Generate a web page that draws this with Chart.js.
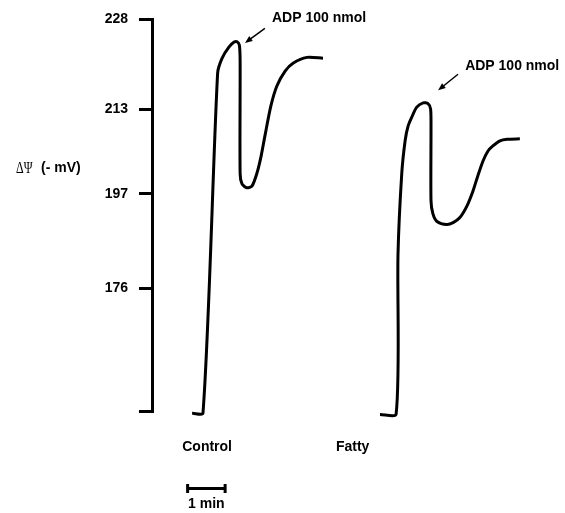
<!DOCTYPE html>
<html>
<head>
<meta charset="utf-8">
<script src="https://cdn.jsdelivr.net/npm/chart.js@4"></script>
<style>
  html, body { margin: 0; padding: 0; background: #fff; }
  #wrap { width: 565px; height: 513px; }
</style>
</head>
<body>
<div id="wrap"><canvas id="trace"></canvas></div>
<script>
// Trace data: x in minutes, y in recorder units (0 = baseline foot, 100 = 228 mV mark)
const controlX = [1.07, 1.36, 1.75, 1.87, 2.05, 2.19, 2.27, 2.33, 2.35, 2.35, 2.40, 2.53, 2.67, 2.80, 2.91, 3.01, 3.17, 3.33, 3.55, 3.76, 4.13, 4.56];
const controlY = [-0.6, -0.5, 86.3, 90.1, 92.9, 94.2, 94.3, 93.4, 89.3, 60.6, 58.0, 57.0, 57.5, 60.8, 65.1, 70.2, 77.9, 83.0, 86.8, 88.8, 90.3, 90.1];

const fattyX = [6.08, 6.51, 6.56, 6.66, 6.75, 6.83, 6.93, 7.06, 7.23, 7.36, 7.43, 7.44, 7.44, 7.49, 7.60, 7.86, 8.03, 8.21, 8.40, 8.56, 8.69, 8.83, 8.96, 9.09, 9.28, 9.47, 9.81];
const fattyY = [-0.9, -0.8, 40.0, 60.6, 69.0, 72.8, 75.1, 77.6, 78.7, 78.5, 77.1, 71.5, 53.7, 50.4, 48.4, 47.6, 48.1, 49.4, 52.4, 56.2, 60.1, 63.9, 66.4, 67.7, 69.0, 69.4, 69.5];

// Calibration marks on the potential axis (recorder units -> mV label)
const tickPositions = [0, 31.3, 55.5, 77.1, 100];
const tickLabels = ['', '176', '197', '213', '228'];

// ADP additions: label position and arrow (tail -> tip), in minutes / recorder units
const adpLabels = ['ADP 100 nmol', 'ADP 100 nmol'];
const adpTextX = [3.20, 8.35];
const adpTextY = [100.2, 88.0];
const adpArrowFrom = [[3.01, 97.7], [8.16, 86.0]];
const adpArrowTo = [[2.48, 94.0], [7.63, 81.9]];

// Group names under each trace (x in minutes)
const groupNames = ['Control', 'Fatty'];
const groupX = [1.47, 5.35];

// Time scale bar
const scaleBarStart = 0.95;
const scaleBarLength = 1;
const scaleBarLabel = '1 min';

const FONT = "'Liberation Sans', Arial, sans-serif";

function toPoints(xs, ys) {
    return xs.map((x, i) => ({ x: x, y: ys[i] }));
}

function drawArrow(ctx, x1, y1, x2, y2) {
    const ang = Math.atan2(y2 - y1, x2 - x1);
    const head = 8;
    ctx.beginPath();
    ctx.moveTo(x1, y1);
    ctx.lineTo(x2 - Math.cos(ang) * head * 0.8, y2 - Math.sin(ang) * head * 0.8);
    ctx.stroke();
    ctx.beginPath();
    ctx.moveTo(x2, y2);
    ctx.lineTo(x2 - head * Math.cos(ang - 0.38), y2 - head * Math.sin(ang - 0.38));
    ctx.lineTo(x2 - head * Math.cos(ang + 0.38), y2 - head * Math.sin(ang + 0.38));
    ctx.closePath();
    ctx.fill();
}

// Draws axis title, ADP arrows, group names and the time bar
const annotationsPlugin = {
    id: 'annotations',
    afterDraw(chart) {
        const ctx = chart.ctx;
        const xs = chart.scales.x;
        const ys = chart.scales.y;
        ctx.save();
        ctx.fillStyle = '#000';
        ctx.strokeStyle = '#000';
        ctx.textBaseline = 'middle';

        // axis title (Greek part is narrow, like a symbol font)
        ctx.textAlign = 'left';
        ctx.save();
        ctx.translate(16, 169);
        ctx.scale(0.7, 1);
        ctx.font = "17px 'Liberation Serif', 'DejaVu Serif', serif";
        ctx.fillText('ΔΨ', 0, 0);
        ctx.restore();
        ctx.font = 'bold 14px ' + FONT;
        ctx.fillText('(- mV)', 41, 168);

        // ADP labels and arrows
        ctx.lineWidth = 1.5;
        adpLabels.forEach((txt, i) => {
            ctx.font = 'bold 14px ' + FONT;
            ctx.textAlign = 'left';
            ctx.fillText(txt, xs.getPixelForValue(adpTextX[i]), ys.getPixelForValue(adpTextY[i]));
            drawArrow(ctx,
                xs.getPixelForValue(adpArrowFrom[i][0]), ys.getPixelForValue(adpArrowFrom[i][1]),
                xs.getPixelForValue(adpArrowTo[i][0]), ys.getPixelForValue(adpArrowTo[i][1]));
        });

        // group names
        ctx.textAlign = 'center';
        ctx.font = 'bold 14px ' + FONT;
        groupNames.forEach((name, i) => {
            ctx.fillText(name, xs.getPixelForValue(groupX[i]), chart.chartArea.bottom + 36);
        });

        // time scale bar
        const bx1 = xs.getPixelForValue(scaleBarStart);
        const bx2 = xs.getPixelForValue(scaleBarStart + scaleBarLength);
        const by = chart.chartArea.bottom + 77.5;
        ctx.lineWidth = 3;
        ctx.beginPath();
        ctx.moveTo(bx1, by);
        ctx.lineTo(bx2, by);
        ctx.moveTo(bx1, by - 4.5);
        ctx.lineTo(bx1, by + 4.5);
        ctx.moveTo(bx2, by - 4.5);
        ctx.lineTo(bx2, by + 4.5);
        ctx.stroke();
        ctx.fillText(scaleBarLabel, (bx1 + bx2) / 2, by + 16);

        ctx.restore();
    }
};

const lineStyle = {
    borderColor: '#000',
    borderWidth: 3,
    pointRadius: 0,
    tension: 0.25,
    fill: false,
    clip: false,
    borderJoinStyle: 'round'
};

new Chart(document.getElementById('trace'), {
    type: 'line',
    data: {
        datasets: [
            Object.assign({ label: 'Control', data: toPoints(controlX, controlY) }, lineStyle),
            Object.assign({ label: 'Fatty', data: toPoints(fattyX, fattyY) }, lineStyle)
        ]
    },
    options: {
        responsive: true,
        maintainAspectRatio: false,
        animation: false,
        layout: {
            padding: { top: 18, bottom: 102, left: 0, right: 0.5 }
        },
        plugins: {
            legend: { display: false },
            tooltip: { enabled: false }
        },
        scales: {
            x: {
                type: 'linear',
                display: false,
                min: 0,
                max: 11
            },
            y: {
                type: 'linear',
                min: 0,
                max: 100,
                afterFit: scale => { scale.width = 152; },
                afterBuildTicks: scale => {
                    scale.ticks = tickPositions.map(v => ({ value: v }));
                },
                ticks: {
                    callback: (value, index) => tickLabels[index],
                    color: '#000',
                    padding: 11,
                    font: { family: FONT, size: 14, weight: 'bold' }
                },
                grid: {
                    drawOnChartArea: false,
                    drawTicks: true,
                    tickLength: 13,
                    color: '#000',
                    lineWidth: 3
                },
                border: { display: true, color: '#000', width: 3 }
            }
        }
    },
    plugins: [annotationsPlugin]
});
</script>
</body>
</html>
